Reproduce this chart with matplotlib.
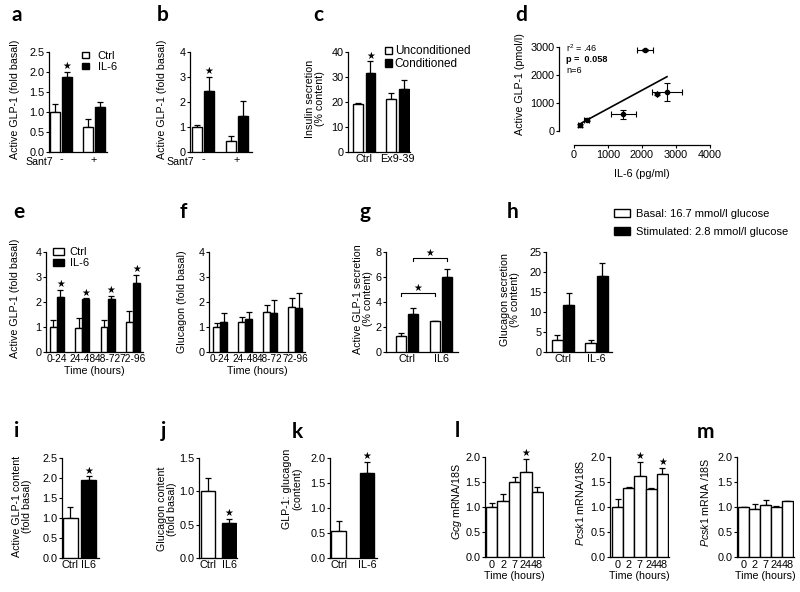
import numpy as np
import matplotlib.pyplot as plt

plt.rcParams['font.family'] = ['Liberation Sans', 'DejaVu Sans']
plt.rcParams['mathtext.fontset'] = 'custom'
plt.rcParams['mathtext.rm'] = 'Liberation Sans'
plt.rcParams['mathtext.it'] = 'Liberation Sans:italic'
plt.rcParams['mathtext.bf'] = 'Liberation Sans:bold'

W, H = 800, 592

# ---- data ----
# a
a_groups = ['-', '+']
a_ctrl, a_ctrl_err = [1.0, 0.63], [0.2, 0.2]
a_il6, a_il6_err = [1.87, 1.12], [0.13, 0.14]
a_stars = [0]
# b
b_groups = ['-', '+']
b_ctrl, b_ctrl_err = [1.0, 0.45], [0.1, 0.2]
b_il6, b_il6_err = [2.45, 1.45], [0.55, 0.58]
b_stars = [0]
# c
c_groups = ['Ctrl', 'Ex9-39']
c_uncond, c_uncond_err = [19.3, 21.3], [0.4, 2.3]
c_cond, c_cond_err = [31.8, 25.2], [4.5, 3.8]
c_stars = [0]
# d
d_il6 = [180, 370, 1450, 2080, 2450, 2730]
d_il6_err = [60, 80, 370, 240, 0, 450]
d_glp1 = [200, 400, 600, 2900, 1320, 1400]
d_glp1_err = [40, 50, 160, 30, 50, 320]
d_fit_x = [235, 2735]
d_fit_y = [296, 1939]
# e
e_time = ['0-24', '24-48', '48-72', '72-96']
e_ctrl, e_ctrl_err = [1.02, 0.97, 1.0, 1.21], [0.25, 0.38, 0.28, 0.44]
e_il6, e_il6_err = [2.22, 2.12, 2.12, 2.75], [0.28, 0.03, 0.12, 0.33]
e_stars = [0, 1, 2, 3]
# f
f_time = ['0-24', '24-48', '48-72', '72-96']
f_ctrl, f_ctrl_err = [1.01, 1.21, 1.59, 1.79], [0.16, 0.18, 0.29, 0.36]
f_il6, f_il6_err = [1.2, 1.31, 1.57, 1.75], [0.37, 0.3, 0.51, 0.6]
# g
g_groups = ['Ctrl', 'IL6']
g_basal, g_basal_err = [1.28, 2.48], [0.21, 0.04]
g_stim, g_stim_err = [3.01, 5.97], [0.48, 0.67]
# h
h_groups = ['Ctrl', 'IL-6']
h_basal, h_basal_err = [2.93, 2.35], [1.27, 0.75]
h_stim, h_stim_err = [11.7, 19.06], [3.1, 3.14]
# i, j, k
ij_groups = ['Ctrl', 'IL6']
i_vals, i_err = [1.01, 1.96], [0.27, 0.08]
j_vals, j_err = [1.005, 0.525], [0.2, 0.065]
k_groups = ['Ctrl', 'IL-6']
k_vals, k_err = [0.55, 1.71], [0.19, 0.21]
# l, m
lm_time = ['0', '2', '7', '24', '48']
l_gcg, l_gcg_err = [1.0, 1.13, 1.5, 1.71, 1.31], [0.09, 0.13, 0.11, 0.25, 0.09]
l_gcg_stars = [3]
l_pcsk, l_pcsk_err = [1.0, 1.38, 1.63, 1.36, 1.66], [0.17, 0.02, 0.28, 0.02, 0.12]
l_pcsk_stars = [2, 4]
m_pcsk, m_pcsk_err = [1.0, 0.96, 1.05, 1.0, 1.12], [0.01, 0.1, 0.09, 0.02, 0.0]

TICK_FS = 7.8
LABEL_FS = 7.7

fig = plt.figure(figsize=(W / 100, H / 100), dpi=100)


def px_axes(left, top, right, bottom):
    return fig.add_axes([left / W, 1 - bottom / H, (right - left) / W, (bottom - top) / H])


def ftext(x, y, s, **kw):
    return fig.text(x / W, 1 - y / H, s, **kw)


def style(ax, ylim, yticks, fmt=None):
    for s in ['top', 'right']:
        ax.spines[s].set_visible(False)
    for s in ['left', 'bottom']:
        ax.spines[s].set_linewidth(0.9)
    ax.set_ylim(*ylim)
    ax.set_yticks(yticks)
    if fmt:
        ax.yaxis.set_major_formatter(fmt)
    ax.tick_params(axis='y', direction='out', length=2.5, width=0.8, labelsize=TICK_FS, pad=0.6)
    ax.tick_params(axis='x', length=0, labelsize=TICK_FS, pad=1.8)


def ylab(ax, text, x, y, fs=LABEL_FS):
    ax.set_ylabel(text, fontsize=fs, ha='center', va='center', linespacing=1.12)
    ax.yaxis.set_label_coords(x / W, 1 - y / H, transform=fig.transFigure)


def draw_bars(ax, pos, vals, errs, color, width, label=None):
    h = ax.bar(pos, vals, width, color=color, edgecolor='black', linewidth=1.0,
               zorder=3, label=label)
    ax.errorbar(pos, vals, yerr=[np.zeros(len(errs)), errs], fmt='none', ecolor='black',
                elinewidth=0.9, capsize=2.5, capthick=0.9, zorder=2)
    return h


def star(ax, x, y):
    ax.annotate('★', xy=(x, y), xytext=(0, 0.5), textcoords='offset points',
                ha='center', va='bottom', fontsize=7, family='DejaVu Sans')


def legend(ax, handles, x, y, fs, hl, hh, tp, ls):
    ax.legend(handles=handles, loc='upper left', bbox_to_anchor=(x / W, 1 - y / H),
              bbox_transform=fig.transFigure, frameon=False, fontsize=fs,
              handlelength=hl, handleheight=hh, handletextpad=tp, labelspacing=ls,
              borderpad=0, borderaxespad=0)


def grouped(ax, groups, s1, e1, s2, e2, off, width, stars=(), labels=(None, None)):
    x = np.arange(len(groups))
    h1 = draw_bars(ax, x - off, s1, e1, 'white', width, labels[0])
    h2 = draw_bars(ax, x + off, s2, e2, 'black', width, labels[1])
    ax.set_xticks(x, groups)
    for i in stars:
        star(ax, x[i] + off, s2[i] + e2[i])
    return h1, h2


def single(ax, groups, vals, errs, colors, width, stars=()):
    x = np.arange(len(groups))
    draw_bars(ax, x, vals, errs, colors, width)
    ax.set_xticks(x, groups)
    for i in stars:
        star(ax, x[i], vals[i] + errs[i])


# ---- a ----
ax = px_axes(49, 52, 107, 152)
h1, h2 = grouped(ax, a_groups, a_ctrl, a_ctrl_err, a_il6, a_il6_err, 0.19, 0.30,
                 a_stars, ('Ctrl', 'IL-6'))
ax.set_xlim(-0.36, 1.39)
style(ax, (0, 2.5), np.arange(0, 2.51, 0.5), '{x:.1f}')
ylab(ax, 'Active GLP-1 (fold basal)', 15, 99)
legend(ax, [h1, h2], 82, 51, 8, 0.62, 0.55, 0.8, 0.07)
ftext(25, 162, 'Sant7', fontsize=7.6, va='center')

# ---- b ----
ax = px_axes(190, 52, 252, 152)
grouped(ax, b_groups, b_ctrl, b_ctrl_err, b_il6, b_il6_err, 0.18, 0.29, b_stars)
ax.set_xlim(-0.38, 1.44)
style(ax, (0, 4), np.arange(0, 5, 1))
ylab(ax, 'Active GLP-1 (fold basal)', 162, 99)
ftext(166, 162, 'Sant7', fontsize=7.6, va='center')

# ---- c ----
ax = px_axes(348, 52, 410, 152)
h1, h2 = grouped(ax, c_groups, c_uncond, c_uncond_err, c_cond, c_cond_err, 0.19, 0.29,
                 c_stars, ('Unconditioned', 'Conditioned'))
ax.set_xlim(-0.48, 1.37)
style(ax, (0, 40), np.arange(0, 41, 10))
ylab(ax, 'Insulin secretion\n(% content)', 315, 99)
legend(ax, [h1, h2], 385, 45.5, 8.5, 0.58, 0.58, 0.25, 0.07)

# ---- d ----
ax = px_axes(574, 47, 710, 131)
ax.errorbar(d_il6, d_glp1, xerr=d_il6_err, yerr=d_glp1_err, fmt='o', ms=3, color='black',
            ecolor='black', elinewidth=0.8, capsize=2, capthick=0.8, clip_on=False, zorder=3)
ax.plot(d_fit_x, d_fit_y, color='black', lw=1.2)
ax.set_xlim(0, 4000)
style(ax, (0, 3000), np.arange(0, 3001, 1000))
ax.set_xticks(np.arange(0, 4001, 1000))
ax.tick_params(axis='x', direction='out', length=2.5, width=0.8, labelsize=TICK_FS, pad=1.5)
ax.spines['left'].set_position(('outward', 11))
ax.spines['bottom'].set_position(('outward', 10))
ax.set_xlabel('IL-6 (pg/ml)', fontsize=7.8, labelpad=6)
ylab(ax, 'Active GLP-1 (pmol/l)', 520, 84)
ftext(566, 48.5, 'r$^2$ = .46', fontsize=6.6, va='center')
ftext(566, 59.5, 'p =  0.058', fontsize=6.6, va='center', weight='bold')
ftext(566, 70.5, 'n=6', fontsize=6.6, va='center')

# ---- e ----
ax = px_axes(46, 252, 143, 352)
h1, h2 = grouped(ax, e_time, e_ctrl, e_ctrl_err, e_il6, e_il6_err, 0.14, 0.27,
                 e_stars, ('Ctrl', 'IL-6'))
ax.set_xlim(-0.43, 3.4)
style(ax, (0, 4), np.arange(0, 5, 1))
ax.tick_params(axis='x', labelsize=7.4)
ax.set_xlabel('Time (hours)', fontsize=LABEL_FS, labelpad=1)
ylab(ax, 'Active GLP-1 (fold basal)', 15, 298)
legend(ax, [h1, h2], 53, 247, 8, 0.95, 0.58, 0.55, 0.1)

# ---- f ----
ax = px_axes(209, 252, 305, 352)
grouped(ax, f_time, f_ctrl, f_ctrl_err, f_il6, f_il6_err, 0.14, 0.28)
ax.set_xlim(-0.44, 3.4)
style(ax, (0, 4), np.arange(0, 5, 1))
ax.tick_params(axis='x', labelsize=7.2)
ax.set_xlabel('Time (hours)', fontsize=LABEL_FS, labelpad=1)
ylab(ax, 'Glucagon (fold basal)', 182, 302)

# ---- g ----
ax = px_axes(386, 252, 458, 352)
grouped(ax, g_groups, g_basal, g_basal_err, g_stim, g_stim_err, 0.18, 0.29)
ax.set_xlim(-0.62, 1.5)
style(ax, (0, 8), np.arange(0, 9, 2))
ylab(ax, 'Active GLP-1 secretion\n(% content)', 363, 299)
for (xa, xb, yb) in [(-0.18, 0.82, 4.7), (0.18, 1.18, 7.5)]:
    ax.plot([xa, xa, xb, xb], [yb - 0.2, yb, yb, yb - 0.2], color='black', lw=0.8)
    star(ax, (xa + xb) / 2, yb)

# ---- h ----
ax = px_axes(546, 252, 612, 352)
h1, h2 = grouped(ax, h_groups, h_basal, h_basal_err, h_stim, h_stim_err, 0.17, 0.33,
                 labels=('Basal: 16.7 mmol/l glucose', 'Stimulated: 2.8 mmol/l glucose'))
ax.set_xlim(-0.51, 1.46)
style(ax, (0, 25), np.arange(0, 26, 5))
ylab(ax, 'Glucagon secretion\n(% content)', 510, 300)
legend(ax, [h1, h2], 614, 209, 8, 1.45, 0.72, 0.5, 0.75)

# ---- i ----
ax = px_axes(62, 458, 99, 558)
single(ax, ij_groups, i_vals, i_err, ['white', 'black'], 0.78, [1])
ax.set_xlim(-0.47, 1.58)
style(ax, (0, 2.5), np.arange(0, 2.51, 0.5), '{x:.1f}')
ylab(ax, 'Active GLP-1 content\n(fold basal)', 22, 506)

# ---- j ----
ax = px_axes(199, 458, 237, 558)
single(ax, ij_groups, j_vals, j_err, ['white', 'black'], 0.67, [1])
ax.set_xlim(-0.43, 1.38)
style(ax, (0, 1.5), np.arange(0, 1.51, 0.5), '{x:.1f}')
ylab(ax, 'Glucagon content\n(fold basal)', 167, 509)

# ---- k ----
ax = px_axes(330, 458, 377, 558)
single(ax, k_groups, k_vals, k_err, ['white', 'black'], 0.5, [1])
ax.set_xlim(-0.3, 1.35)
style(ax, (0, 2.0), np.arange(0, 2.01, 0.5), '{x:.1f}')
ylab(ax, 'GLP-1: glucagon\n(content)', 292, 489)

# ---- l ----
ax = px_axes(485, 457, 544, 557)
single(ax, lm_time, l_gcg, l_gcg_err, 'white', 1.0, l_gcg_stars)
ax.set_xlim(-0.6, 4.6)
style(ax, (0, 2.0), np.arange(0, 2.01, 0.5), '{x:.1f}')
ax.set_xlabel('Time (hours)', fontsize=LABEL_FS, labelpad=1)
ylab(ax, '$\\it{Gcg}$ mRNA/18S', 457, 501)

ax = px_axes(610, 457, 669, 557)
single(ax, lm_time, l_pcsk, l_pcsk_err, 'white', 1.0, l_pcsk_stars)
ax.set_xlim(-0.68, 4.6)
style(ax, (0, 2.0), np.arange(0, 2.01, 0.5), '{x:.1f}')
ax.set_xlabel('Time (hours)', fontsize=LABEL_FS, labelpad=1)
ylab(ax, '$\\it{Pcsk1}$ mRNA/18S', 580, 503)

# ---- m ----
ax = px_axes(737, 457, 794, 557)
single(ax, lm_time, m_pcsk, m_pcsk_err, 'white', 1.0)
ax.set_xlim(-0.6, 4.6)
style(ax, (0, 2.0), np.arange(0, 2.01, 0.5), '{x:.1f}')
ax.set_xlabel('Time (hours)', fontsize=LABEL_FS, labelpad=1)
ylab(ax, '$\\it{Pcsk1}$ mRNA /18S', 705, 502)

# panel letters
letters = [('a', 12, 21), ('b', 157, 21), ('c', 313, 21), ('d', 515, 21),
           ('e', 13, 218), ('f', 180, 218), ('g', 360, 218), ('h', 507, 218),
           ('i', 14, 437), ('j', 161, 437), ('k', 292, 438), ('l', 455, 437), ('m', 697, 438)]
for s, x, y in letters:
    ftext(x, y, s, fontsize=15, weight='bold', family='Lato', va='baseline')

fig.savefig('out.png', dpi=100)
